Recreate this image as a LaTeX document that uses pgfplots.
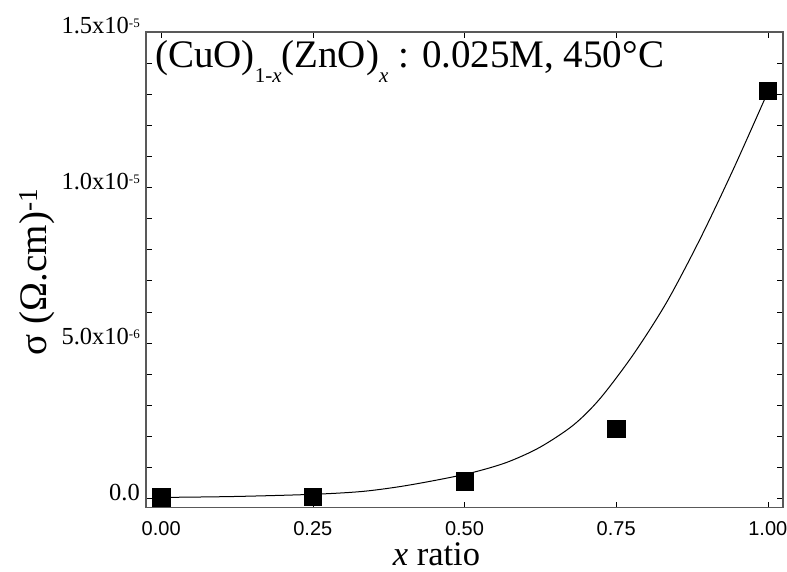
\documentclass[border=0pt]{standalone}
\usepackage{fontspec}
\setmainfont{Liberation Serif}
\newfontfamily\arialf{Liberation Sans}
\usepackage{pgfplots}
\pgfplotsset{compat=1.18}
\newcommand{\sq}[1]{\raisebox{6pt}{\fontsize{13}{13}\selectfont #1}}
\begin{document}
\begin{tikzpicture}
\path[use as bounding box] (-146pt,-64.3pt) rectangle (641pt,507.7pt);
\begin{axis}[
  at={(0pt,0pt)}, anchor=south west,
  scale only axis, width=637pt, height=475.7pt,
  xmin=-0.025, xmax=1.025, ymin=-3e-7, ymax=1.5e-5,
  scaled y ticks=false,
  xtick={0,0.25,0.5,0.75,1}, xticklabels={0.00,0.25,0.50,0.75,1.00},
  ytick={0,5e-6,1e-5,1.5e-5},
  yticklabels={0.0,5.0x10\sq{-6},1.0x10\sq{-5},1.5x10\sq{-5}},
  minor ytick={1e-6,2e-6,3e-6,4e-6,6e-6,7e-6,8e-6,9e-6,1.1e-5,1.2e-5,1.3e-5,1.4e-5},
  tick align=inside,
  major tick length=6pt, minor tick length=6pt,
  axis line style={black!65, line width=1.2pt},
  tick style={black, line width=0.6pt},
  x tick label style={font=\arialf\fontsize{20}{20}\selectfont, anchor=north, inner sep=0pt, yshift=-13.3pt},
  y tick label style={font=\fontsize{24.5}{24.5}\selectfont, anchor=east, inner sep=0pt, xshift=-6pt, yshift=6pt},
  xlabel={\textit{x} ratio},
  xlabel style={font=\fontsize{34.5}{34.5}\selectfont, at={([yshift=-58pt]rel axis cs:0.456,0)}, anchor=base, inner sep=0pt},
  ylabel={σ (Ω.cm)\textsuperscript{-1}},
  ylabel style={font=\fontsize{39}{39}\selectfont, at={([xshift=-99pt,yshift=-2pt]rel axis cs:0,0.5)}, anchor=base, inner sep=0pt},
  clip=false,
]
\addplot[black, line width=1pt, smooth] coordinates {
  (0,3e-8) (0.12,6e-8) (0.25,1.3e-7) (0.33,2.2e-7) (0.394,3.8e-7)
  (0.46,6.1e-7) (0.515,8.4e-7) (0.57,1.16e-6) (0.624,1.64e-6)
  (0.679,2.35e-6) (0.723,3.20e-6) (0.778,4.62e-6) (0.833,6.30e-6)
  (0.888,8.33e-6) (0.943,1.058e-5) (1.0,1.307e-5)
};
\addplot[only marks, mark=square*, mark size=8.6pt, black] coordinates {
  (0,3.6e-8) (0.25,4.5e-8) (0.5,5.5e-7) (0.75,2.24e-6) (1.0,1.312e-5)
};
\node[anchor=base west, font=\fontsize{39}{39}\selectfont, inner sep=0pt]
  at (rel axis cs:0,1) [xshift=9pt, yshift=-36pt]
  {(CuO)\raisebox{-15pt}{\fontsize{21}{21}\selectfont 1-\textit{x}}(ZnO)\raisebox{-15pt}{\fontsize{21}{21}\selectfont\textit{x}} : 0.025M, 450°C};
\end{axis}
\end{tikzpicture}
\end{document}
